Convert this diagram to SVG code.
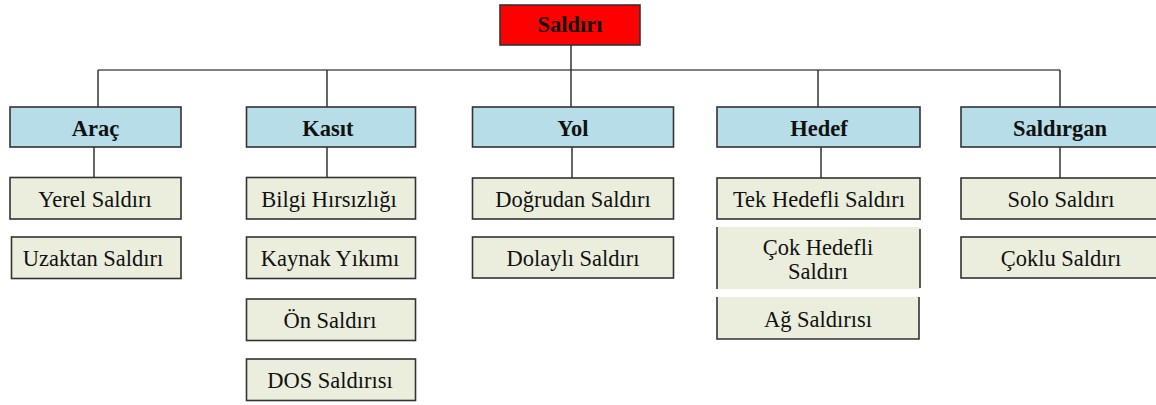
<svg xmlns="http://www.w3.org/2000/svg" width="1156" height="405" viewBox="0 0 1156 405">
<style>
.b{stroke:#333;stroke-width:1.6}
.root{fill:#FF0000}
.cat{fill:#B7DDE8}
.leaf{fill:#EBEEDD}
.nb{fill:#EBEEDD;stroke:none}
.e{stroke:#333;stroke-width:1.6;fill:none}
text{font-family:'Liberation Serif','Tinos','DejaVu Serif','Times New Roman',serif;font-size:22.5px;text-anchor:middle;fill:#111}
.bt{font-weight:bold}
.hl{stroke:#808080;stroke-width:2.2;fill:none}
.vl{stroke:#333;stroke-width:1.5;fill:none}
</style>
<rect width="1156" height="405" fill="#fff"/>
<g id="connectors">
<path class="hl" d="M98,70 H1060"/>
<path class="vl" d="M571,45 V107"/>
<path class="vl" d="M98,70 V107"/>
<path class="vl" d="M327,70 V107"/>
<path class="vl" d="M818,70 V107"/>
<path class="vl" d="M1060,70 V107"/>
<path class="vl" d="M94,147 V178"/>
<path class="vl" d="M327,147 V178"/>
<path class="vl" d="M572,147 V178"/>
<path class="vl" d="M821,147 V178"/>
<path class="vl" d="M1060,147 V178"/>
</g>
<g id="saldiri"><rect class="b root" x="500" y="5" width="140" height="40"/><text class="bt" x="570" y="32" font-family="Liberation Serif, serif">Saldırı</text></g>
<g id="arac"><rect class="b cat" x="10" y="107" width="171" height="40"/><text class="bt" x="95.5" y="135.5">Araç</text></g>
<g id="kasit"><rect class="b cat" x="246.5" y="107" width="169" height="40"/><text class="bt" x="328" y="135.5">Kasıt</text></g>
<g id="yol"><rect class="b cat" x="472.5" y="107" width="201" height="40"/><text class="bt" x="573" y="135.5">Yol</text></g>
<g id="hedef"><rect class="b cat" x="717" y="107" width="203" height="40"/><text class="bt" x="819" y="135.5">Hedef</text></g>
<g id="saldirgan"><rect class="b cat" x="961" y="107" width="200" height="40"/><text class="bt" x="1060" y="135.5">Saldırgan</text></g>

<g id="yerel"><rect class="b leaf" x="10" y="177.5" width="171" height="41.5"/><text x="95" y="207">Yerel Saldırı</text></g>
<g id="uzaktan"><rect class="b leaf" x="11.5" y="237" width="169.5" height="41.5"/><text x="93" y="266">Uzaktan Saldırı</text></g>

<g id="bilgi"><rect class="b leaf" x="246.5" y="177.5" width="169" height="41.5"/><text x="329" y="207">Bilgi Hırsızlığı</text></g>
<g id="kaynak"><rect class="b leaf" x="246.5" y="237" width="169" height="41.5"/><text x="330" y="266">Kaynak Yıkımı</text></g>
<g id="on"><rect class="b leaf" x="246.5" y="299" width="169" height="41.5"/><text x="330" y="328">Ön Saldırı</text></g>
<g id="dos"><rect class="b leaf" x="246.5" y="359" width="169" height="41.5"/><text x="330" y="388">DOS Saldırısı</text></g>

<g id="dogrudan"><rect class="b leaf" x="472.5" y="178" width="201" height="41"/><text x="573" y="207">Doğrudan Saldırı</text></g>
<g id="dolayli"><rect class="b leaf" x="472.5" y="237" width="201" height="41"/><text x="573" y="266">Dolaylı Saldırı</text></g>

<g id="tek"><rect class="b leaf" x="717" y="178" width="203" height="41"/><text x="819" y="207">Tek Hedefli Saldırı</text></g>
<g id="cok"><rect class="nb" x="717" y="227" width="203" height="62"/><path class="e" d="M717,227 V289 M920,229 V288"/><text x="818" y="255">Çok Hedefli</text><text x="818" y="279">Saldırı</text></g>
<g id="ag"><rect class="nb" x="717" y="297" width="202" height="42"/><path class="e" d="M717,297 V339 H919 V297"/><text x="818" y="327">Ağ Saldırısı</text></g>

<g id="solo"><rect class="b leaf" x="961" y="178" width="200" height="41"/><text x="1061" y="207">Solo Saldırı</text></g>
<g id="coklu"><rect class="b leaf" x="961" y="237" width="200" height="41"/><text x="1061" y="266">Çoklu Saldırı</text></g>
</svg>
